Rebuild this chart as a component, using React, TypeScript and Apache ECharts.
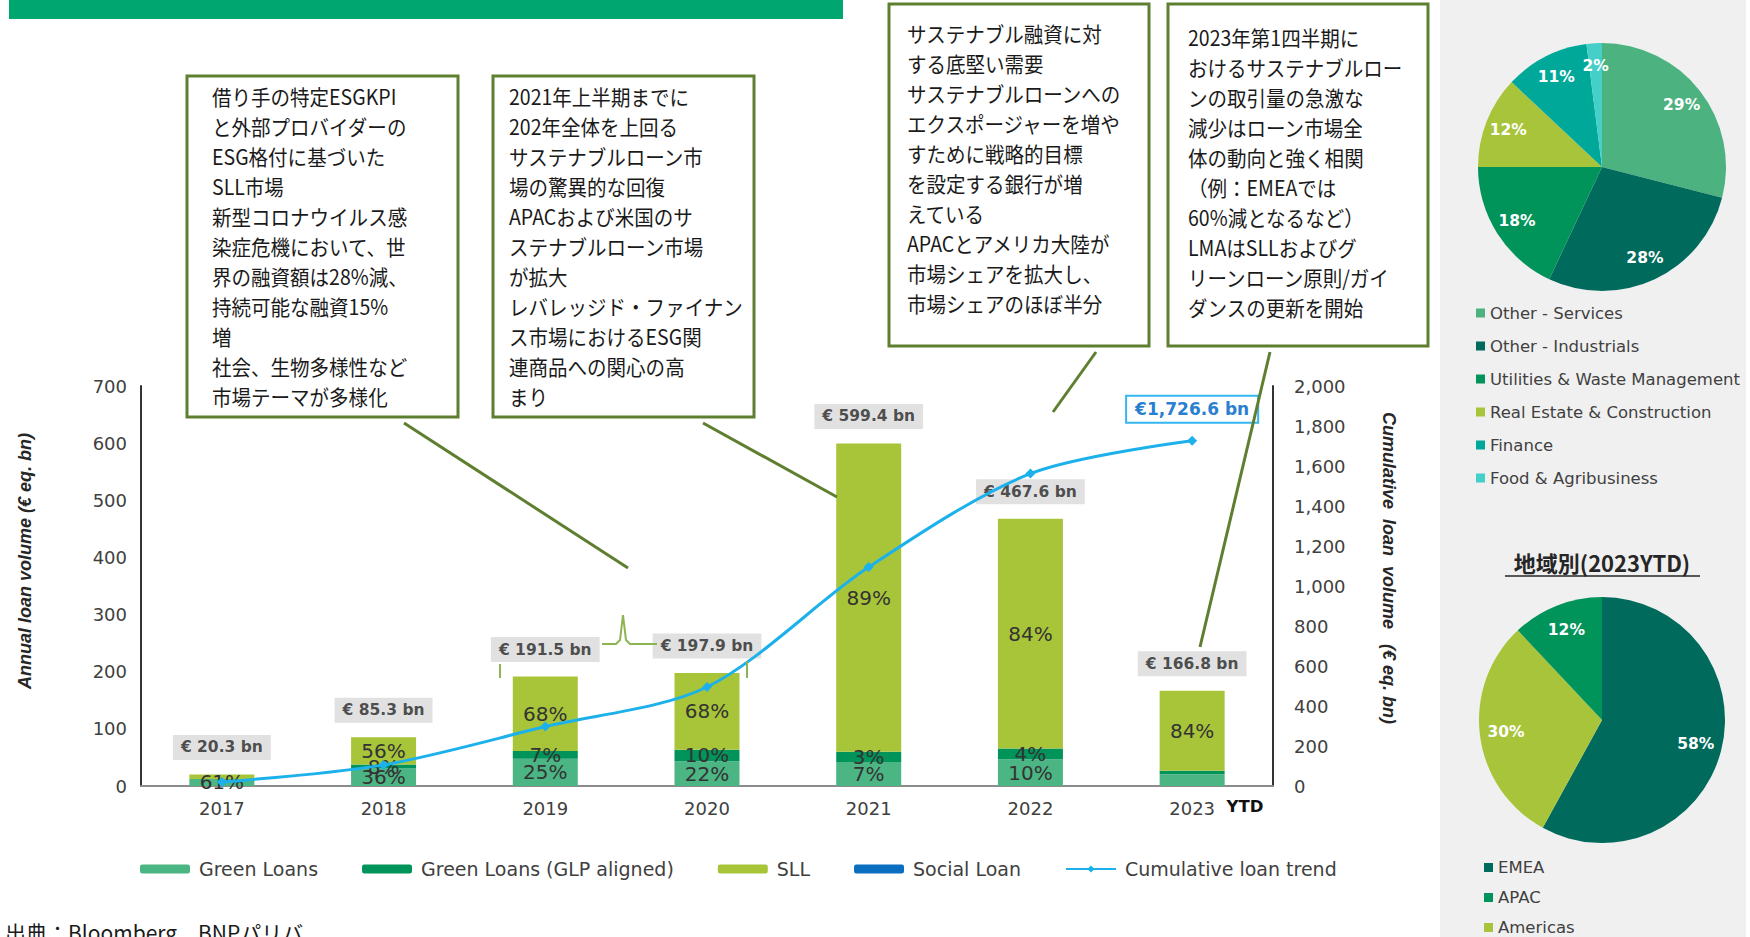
import React, { useEffect, useRef } from "react";
import * as echarts from "echarts";

// ---------- data ----------
const years = ["2017", "2018", "2019", "2020", "2021", "2022", "2023"];
const greenLoans = [12.4, 30.7, 47.9, 43.5, 42.0, 46.8, 20.7];
const glpAligned = [0, 6.8, 13.4, 19.8, 18.0, 18.7, 6.0];
const sllLoans = [7.9, 47.8, 130.2, 134.6, 539.4, 402.1, 140.1];
const socialLoans = [0, 0, 0, 0, 0, 0, 0];
const annualTotals = [20.3, 85.3, 191.5, 197.9, 599.4, 467.6, 166.8];
const cumulative = [20.3, 105.6, 297.1, 495.0, 1094.4, 1562.0, 1726.6];
const greenPct = ["61%", "36%", "25%", "22%", "7%", "10%", ""];
const glpPct = ["", "8%", "7%", "10%", "3%", "4%", ""];
const sllPct = ["", "56%", "68%", "68%", "89%", "84%", "84%"];

const legendNames = ["Green Loans", "Green Loans (GLP aligned)", "SLL", "Social Loan", "Cumulative loan trend"];

const sectorNames = [
  "Other - Services",
  "Other - Industrials",
  "Utilities & Waste Management",
  "Real Estate & Construction",
  "Finance",
  "Food & Agribusiness",
];
const sectorShares = [29, 28, 18, 12, 11, 2];
const sectorColors = ["#4cb27f", "#006b5d", "#00935a", "#a8c43a", "#00a89a", "#44cfc8"];

const regionNames = ["EMEA", "Americas", "APAC"];
const regionShares = [58, 30, 12];
const regionColors = ["#006b5d", "#a8c43a", "#00935a"];
const regionLegendOrder = ["EMEA", "APAC", "Americas"];
const regionTitle = "地域別(2023YTD)";

const note1 = [
  "借り手の特定ESGKPI",
  "と外部プロバイダーの",
  "ESG格付に基づいた",
  "SLL市場",
  "新型コロナウイルス感",
  "染症危機において、世",
  "界の融資額は28%減、",
  "持続可能な融資15%",
  "増",
  "社会、生物多様性など",
  "市場テーマが多様化",
];
const note2 = [
  "2021年上半期までに",
  "202年全体を上回る",
  "サステナブルローン市",
  "場の驚異的な回復",
  "APACおよび米国のサ",
  "ステナブルローン市場",
  "が拡大",
  "レバレッジド・ファイナン",
  "ス市場におけるESG関",
  "連商品への関心の高",
  "まり",
];
const note3 = [
  "サステナブル融資に対",
  "する底堅い需要",
  "サステナブルローンへの",
  "エクスポージャーを増や",
  "すために戦略的目標",
  "を設定する銀行が増",
  "えている",
  "APACとアメリカ大陸が",
  "市場シェアを拡大し、",
  "市場シェアのほぼ半分",
];
const note4 = [
  "2023年第1四半期に",
  "おけるサステナブルロー",
  "ンの取引量の急激な",
  "減少はローン市場全",
  "体の動向と強く相関",
  "（例：EMEAでは",
  "60%減となるなど）",
  "LMAはSLLおよびグ",
  "リーンローン原則/ガイ",
  "ダンスの更新を開始",
];
const sourceText = "出典：Bloomberg、BNPパリバ";

// ---------- styling ----------
const LATIN = "DejaVu Sans";
const ARIAL = "Liberation Sans";
const CJK = "Noto Sans CJK JP";
const OLIVE = "#5f7f30";

function noteBox(x: number, y: number, w: number, h: number, tx: number, ty: number, lines: string[]) {
  return {
    type: "group",
    z: 20,
    children: [
      { type: "rect", shape: { x, y, width: w, height: h }, style: { fill: "#ffffff", stroke: OLIVE, lineWidth: 3 }, z: 20 },
      {
        type: "text",
        x: tx,
        y: ty,
        scaleX: 0.93,
        z: 21,
        style: { text: lines.join("\n"), fontSize: 21, lineHeight: 30, fontFamily: CJK, fill: "#1a1a1a" },
      },
    ],
  };
}

function pieLabelLayout(cx: number, cy: number, k: number) {
  return (p: any) => {
    const lx = p.labelRect.x + p.labelRect.width / 2;
    const ly = p.labelRect.y + p.labelRect.height / 2;
    return { dx: (lx - cx) * k, dy: (ly - cy) * k };
  };
}

export default function App() {
  const ref = useRef<HTMLDivElement>(null);

  useEffect(() => {
    document.body.style.margin = "0";
    document.body.style.overflow = "hidden";
    if (!ref.current) return;
    const chart = echarts.init(ref.current, undefined, { renderer: "svg" });

    const pctLabel = (arr: string[]) => ({
      show: true,
      position: "inside",
      fontSize: 20,
      fontFamily: LATIN,
      color: "#333333",
      formatter: (p: any) => arr[p.dataIndex],
    });

    const lastIdx = cumulative.length - 1;

    const option: any = {
      animation: false,
      textStyle: { fontFamily: LATIN },
      grid: { left: 141, right: 477, top: 386, bottom: 151, containLabel: false },
      legend: [
        {
          data: legendNames,
          left: 140,
          top: 859,
          padding: 0,
          itemWidth: 50,
          itemHeight: 9,
          itemGap: 44,
          textStyle: { fontSize: 19, lineHeight: 20, color: "#404040", fontFamily: LATIN, padding: [0, 0, 0, 4] },
        },
        {
          data: sectorNames,
          orient: "vertical",
          left: 1476,
          top: 304,
          padding: 0,
          icon: "rect",
          itemWidth: 9,
          itemHeight: 9,
          itemGap: 15,
          textStyle: { fontSize: 16.5, lineHeight: 18, color: "#404040", fontFamily: LATIN },
        },
        {
          data: regionLegendOrder,
          orient: "vertical",
          left: 1484,
          top: 859,
          padding: 0,
          icon: "rect",
          itemWidth: 9,
          itemHeight: 9,
          itemGap: 13,
          textStyle: { fontSize: 16.5, lineHeight: 17, color: "#404040", fontFamily: LATIN },
        },
      ],
      xAxis: {
        type: "category",
        data: years,
        axisTick: { show: false },
        axisLine: { lineStyle: { color: "#8c8c8c", width: 2 } },
        axisLabel: { fontSize: 18, color: "#404040", margin: 13, fontFamily: LATIN },
      },
      yAxis: [
        {
          type: "value",
          min: 0,
          max: 700,
          interval: 100,
          splitLine: { show: false },
          axisTick: { show: false },
          axisLine: { show: true, lineStyle: { color: "#333333", width: 2 } },
          axisLabel: { fontSize: 18, color: "#404040", margin: 14, fontFamily: LATIN },
        },
        {
          type: "value",
          position: "right",
          min: 0,
          max: 2000,
          interval: 200,
          splitLine: { show: false },
          axisTick: { show: false },
          axisLine: { show: true, lineStyle: { color: "#333333", width: 2 } },
          axisLabel: {
            fontSize: 18,
            color: "#404040",
            margin: 21,
            fontFamily: LATIN,
            formatter: (v: number) => v.toLocaleString("en-US"),
          },
        },
      ],
      series: [
        {
          name: "Green Loans",
          type: "bar",
          stack: "loans",
          barWidth: 65,
          data: greenLoans,
          itemStyle: { color: "#4cb584" },
          label: pctLabel(greenPct),
          z: 2,
        },
        {
          name: "Green Loans (GLP aligned)",
          type: "bar",
          stack: "loans",
          barWidth: 65,
          data: glpAligned,
          itemStyle: { color: "#00935a" },
          label: pctLabel(glpPct),
          z: 2,
        },
        {
          name: "SLL",
          type: "bar",
          stack: "loans",
          barWidth: 65,
          data: sllLoans,
          itemStyle: { color: "#a8c539" },
          label: pctLabel(sllPct),
          z: 2,
        },
        {
          name: "Social Loan",
          type: "bar",
          stack: "loans",
          barWidth: 65,
          data: socialLoans,
          itemStyle: { color: "#0b6fc1" },
          z: 2,
        },
        {
          name: "Total",
          type: "scatter",
          data: annualTotals,
          symbolSize: 1,
          itemStyle: { color: "rgba(0,0,0,0)" },
          silent: true,
          z: 5,
          label: {
            show: true,
            position: "top",
            distance: 14,
            formatter: (p: any) => "€ " + Number(p.value).toFixed(1) + " bn",
            backgroundColor: "#d9d9d9",
            padding: [4, 8],
            lineHeight: 17,
            fontSize: 15.5,
            fontWeight: "bold",
            fontFamily: LATIN,
            color: "#262626",
          },
        },
        {
          name: "Cumulative loan trend",
          type: "line",
          yAxisIndex: 1,
          smooth: 0.3,
          symbol: "diamond",
          symbolSize: 10,
          z: 6,
          lineStyle: { color: "#1cb1eb", width: 3 },
          itemStyle: { color: "#1cb1eb" },
          data: cumulative.map((v, i) =>
            i === lastIdx
              ? {
                  value: v,
                  label: {
                    show: true,
                    position: "top",
                    distance: 14,
                    formatter: (p: any) =>
                      "€" + Number(p.value).toLocaleString("en-US", { minimumFractionDigits: 1 }) + " bn",
                    backgroundColor: "#ffffff",
                    borderColor: "#35b6ee",
                    borderWidth: 2,
                    padding: [3, 8],
                    lineHeight: 19,
                    fontSize: 17,
                    fontWeight: "bold",
                    fontFamily: LATIN,
                    color: "#2a80d0",
                  },
                }
              : v
          ),
        },
        {
          name: "Sector",
          type: "pie",
          center: [1602, 167],
          radius: 124,
          startAngle: 90,
          clockwise: true,
          z: 3,
          data: sectorNames.map((n, i) => ({ name: n, value: sectorShares[i], itemStyle: { color: sectorColors[i] } })),
          label: {
            show: true,
            position: "inside",
            formatter: "{c}%",
            color: "#ffffff",
            fontWeight: "bold",
            fontSize: 15.5,
            fontFamily: LATIN,
          },
          labelLayout: pieLabelLayout(1602, 167, 0.55),
          labelLine: { show: false },
          emphasis: { disabled: true },
        },
        {
          name: "Region",
          type: "pie",
          center: [1602, 720],
          radius: 123,
          startAngle: 90,
          clockwise: true,
          z: 3,
          data: regionNames.map((n, i) => ({ name: n, value: regionShares[i], itemStyle: { color: regionColors[i] } })),
          label: {
            show: true,
            position: "inside",
            formatter: "{c}%",
            color: "#ffffff",
            fontWeight: "bold",
            fontSize: 15.5,
            fontFamily: LATIN,
          },
          labelLayout: pieLabelLayout(1602, 720, 0.5),
          labelLine: { show: false },
          emphasis: { disabled: true },
        },
      ],
      graphic: {
        elements: [
          { type: "rect", z: 0, shape: { x: 1440, y: 0, width: 306, height: 937 }, style: { fill: "#f0f0f0" } },
          { type: "rect", z: 0, shape: { x: 9, y: 0, width: 834, height: 19 }, style: { fill: "#00a66f" } },
          {
            type: "text",
            z: 10,
            x: 1602,
            y: 562,
            style: {
              text: regionTitle,
              align: "center",
              verticalAlign: "middle",
              fontSize: 22,
              fontWeight: "bold",
              fontFamily: CJK,
              fill: "#262626",
            },
          },
          { type: "line", z: 10, shape: { x1: 1505, y1: 576, x2: 1700, y2: 576 }, style: { stroke: "#262626", lineWidth: 1.5 } },
          {
            type: "text",
            z: 10,
            x: 25,
            y: 561,
            rotation: Math.PI / 2,
            style: {
              text: "Annual loan volume (€ eq. bn)",
              align: "center",
              verticalAlign: "middle",
              fontSize: 18,
              fontWeight: "bold",
              fontStyle: "italic",
              fontFamily: ARIAL,
              fill: "#262626",
            },
          },
          {
            type: "text",
            z: 10,
            x: 1389,
            y: 568,
            rotation: -Math.PI / 2,
            style: {
              text: "Cumulative  loan  volume   (€ eq. bn)",
              align: "center",
              verticalAlign: "middle",
              fontSize: 18,
              fontWeight: "bold",
              fontStyle: "italic",
              fontFamily: ARIAL,
              fill: "#262626",
            },
          },
          {
            type: "text",
            z: 10,
            x: 1245,
            y: 806,
            style: {
              text: "YTD",
              align: "center",
              verticalAlign: "middle",
              fontSize: 16.5,
              fontWeight: "bold",
              fontFamily: LATIN,
              fill: "#111111",
            },
          },
          {
            type: "text",
            z: 10,
            x: 5,
            y: 921,
            style: { text: sourceText, fontSize: 21, fontFamily: CJK, fill: "#1a1a1a" },
          },
          noteBox(187, 76, 271, 341, 212, 81, note1),
          noteBox(493, 76, 261, 341, 509, 81, note2),
          noteBox(889, 4, 260, 342, 907, 18, note3),
          noteBox(1168, 4, 260, 342, 1188, 22, note4),
          { type: "line", z: 15, shape: { x1: 404, y1: 423, x2: 628, y2: 568 }, style: { stroke: OLIVE, lineWidth: 3 } },
          { type: "line", z: 15, shape: { x1: 703, y1: 423, x2: 837, y2: 497 }, style: { stroke: OLIVE, lineWidth: 3 } },
          { type: "line", z: 15, shape: { x1: 1096, y1: 352, x2: 1053, y2: 412 }, style: { stroke: OLIVE, lineWidth: 3 } },
          { type: "line", z: 15, shape: { x1: 1270, y1: 352, x2: 1200, y2: 647 }, style: { stroke: OLIVE, lineWidth: 3 } },
          {
            type: "polyline",
            z: 15,
            shape: {
              points: [
                [602, 644],
                [616, 644],
                [620, 640],
                [623, 615],
                [626, 640],
                [630, 644],
                [657, 644],
              ],
            },
            style: { stroke: "#8db452", lineWidth: 2, fill: null },
          },
          { type: "line", z: 15, shape: { x1: 500, y1: 664, x2: 500, y2: 678 }, style: { stroke: "#8db452", lineWidth: 2 } },
          { type: "line", z: 15, shape: { x1: 747, y1: 661, x2: 747, y2: 678 }, style: { stroke: "#8db452", lineWidth: 2 } },
        ],
      },
    };

    chart.setOption(option);
    return () => chart.dispose();
  }, []);

  return <div ref={ref} style={{ width: 1750, height: 937 }} />;
}
